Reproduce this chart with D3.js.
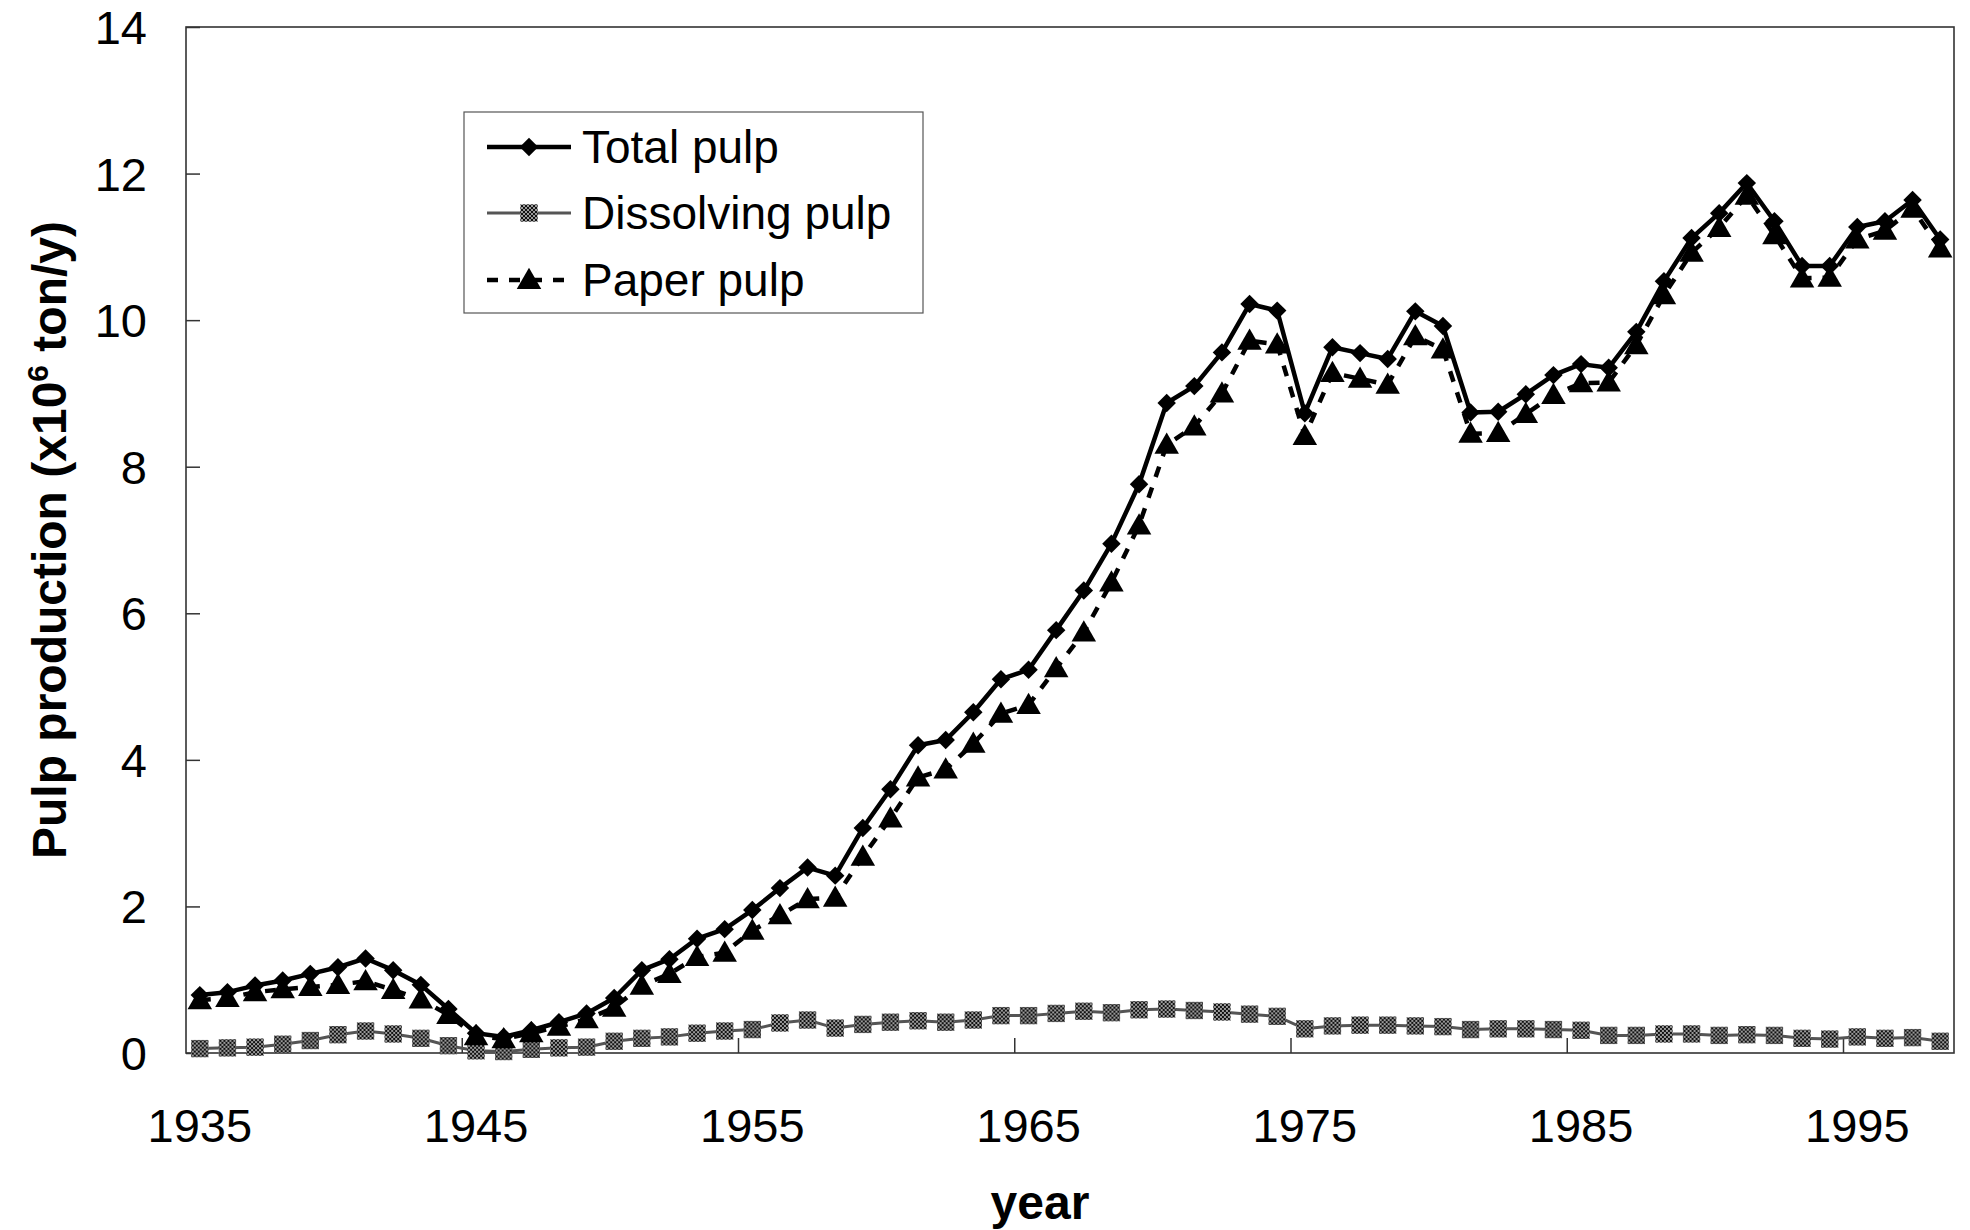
<!DOCTYPE html>
<html>
<head>
<meta charset="utf-8">
<title>Pulp production</title>
<style>
  body { margin: 0; background: #fff; }
  text { font-family: "Liberation Sans", Arial, sans-serif; fill: #000; }
  .tick-label { font-size: 47px; }
  .axis-title { font-size: 48px; font-weight: bold; }
  .legend-label { font-size: 46px; }
</style>
</head>
<body>
<div id="chart"></div>
<script src="https://cdn.jsdelivr.net/npm/d3@7"></script>
<script>
// categories (one per year)
const years = [1935, 1936, 1937, 1938, 1939, 1940, 1941, 1942, 1943, 1944,
  1945, 1946, 1947, 1948, 1949, 1950, 1951, 1952, 1953, 1954,
  1955, 1956, 1957, 1958, 1959, 1960, 1961, 1962, 1963, 1964,
  1965, 1966, 1967, 1968, 1969, 1970, 1971, 1972, 1973, 1974,
  1975, 1976, 1977, 1978, 1979, 1980, 1981, 1982, 1983, 1984,
  1985, 1986, 1987, 1988, 1989, 1990, 1991, 1992, 1993, 1994,
  1995, 1996, 1997, 1998];

// x10^6 ton/y
const totalPulp = [0.79, 0.83, 0.92, 0.99, 1.08, 1.17, 1.29, 1.13, 0.93, 0.60,
  0.27, 0.22, 0.31, 0.42, 0.54, 0.75, 1.13, 1.28, 1.56, 1.69,
  1.95, 2.25, 2.53, 2.42, 3.07, 3.60, 4.20, 4.27, 4.65, 5.10,
  5.23, 5.77, 6.31, 6.95, 7.76, 8.87, 9.10, 9.56, 10.22, 10.13,
  8.73, 9.63, 9.55, 9.47, 10.12, 9.92, 8.74, 8.75, 8.99, 9.25,
  9.40, 9.35, 9.84, 10.53, 11.12, 11.46, 11.87, 11.35, 10.74, 10.74,
  11.27, 11.35, 11.64, 11.10];

const dissolvingPulp = [0.06, 0.07, 0.08, 0.12, 0.17, 0.25, 0.30, 0.26, 0.20, 0.10,
  0.03, 0.02, 0.05, 0.07, 0.08, 0.16, 0.20, 0.22, 0.27, 0.30,
  0.32, 0.41, 0.45, 0.34, 0.39, 0.42, 0.44, 0.42, 0.45, 0.51,
  0.51, 0.54, 0.57, 0.55, 0.59, 0.60, 0.58, 0.56, 0.53, 0.50,
  0.33, 0.37, 0.38, 0.38, 0.37, 0.36, 0.32, 0.33, 0.33, 0.32,
  0.31, 0.24, 0.24, 0.26, 0.26, 0.24, 0.25, 0.24, 0.20, 0.19,
  0.22, 0.20, 0.21, 0.16];

const paperPulp = [0.72, 0.75, 0.83, 0.87, 0.90, 0.93, 0.98, 0.86, 0.73, 0.52,
  0.23, 0.19, 0.27, 0.36, 0.46, 0.62, 0.92, 1.08, 1.31, 1.37,
  1.67, 1.88, 2.10, 2.12, 2.68, 3.20, 3.76, 3.87, 4.22, 4.63,
  4.75, 5.25, 5.74, 6.42, 7.20, 8.30, 8.55, 9.00, 9.72, 9.67,
  8.42, 9.28, 9.20, 9.12, 9.78, 9.60, 8.45, 8.46, 8.72, 8.98,
  9.14, 9.15, 9.66, 10.34, 10.92, 11.26, 11.70, 11.16, 10.57, 10.58,
  11.10, 11.22, 11.52, 10.98];

const yTicks = [0, 2, 4, 6, 8, 10, 12, 14];
const xLabelYears = [1935, 1945, 1955, 1965, 1975, 1985, 1995];
const seriesNames = ["Total pulp", "Dissolving pulp", "Paper pulp"];

const width = 1970, height = 1230;
const plot = { left: 186, right: 1954, top: 27, bottom: 1053 };

const svg = d3.select("#chart").append("svg")
  .attr("width", width)
  .attr("height", height);

// halftone fill used for the dissolving pulp squares
const pat = svg.append("defs").append("pattern")
  .attr("id", "halftone")
  .attr("width", 4).attr("height", 4)
  .attr("patternUnits", "userSpaceOnUse");
pat.append("rect").attr("width", 4).attr("height", 4).attr("fill", "#9a9a9a");
pat.append("rect").attr("width", 2).attr("height", 2).attr("fill", "#111");
pat.append("rect").attr("x", 2).attr("y", 2).attr("width", 2).attr("height", 2).attr("fill", "#111");

// Excel-style category axis: points in the middle of each band
const x = d3.scaleBand().domain(years).range([plot.left, plot.right]).padding(0);
const xc = d => x(d) + x.bandwidth() / 2;
const y = d3.scaleLinear().domain([0, 14]).range([plot.bottom, plot.top]);

// frame
svg.append("rect")
  .attr("x", plot.left).attr("y", plot.top)
  .attr("width", plot.right - plot.left)
  .attr("height", plot.bottom - plot.top)
  .attr("fill", "none")
  .attr("stroke", "#333")
  .attr("stroke-width", 1.6);

// y axis: ticks point inward, labels on the left
const yAxis = d3.axisRight(y).tickValues(yTicks).tickSize(14).tickFormat("");
svg.append("g")
  .attr("transform", `translate(${plot.left},0)`)
  .call(yAxis)
  .call(g => g.select(".domain").remove())
  .call(g => g.selectAll("line").attr("stroke", "#333").attr("stroke-width", 1.5));

svg.append("g").selectAll("text")
  .data(yTicks)
  .join("text")
  .attr("class", "tick-label")
  .attr("x", 147)
  .attr("y", d => y(d) + 17)
  .attr("text-anchor", "end")
  .text(d => d);

// x axis: tick marks between categories every ten years, labels on categories
const boundaryYears = years.filter(d => (d - 1935) % 10 === 0 && d !== 1935);
svg.append("g").selectAll("line")
  .data(boundaryYears)
  .join("line")
  .attr("x1", d => x(d)).attr("x2", d => x(d))
  .attr("y1", plot.bottom).attr("y2", plot.bottom - 15)
  .attr("stroke", "#333").attr("stroke-width", 1.5);

svg.append("g").selectAll("text")
  .data(xLabelYears)
  .join("text")
  .attr("class", "tick-label")
  .attr("x", d => xc(d))
  .attr("y", 1142)
  .attr("text-anchor", "middle")
  .text(d => d);

// axis titles
svg.append("text")
  .attr("class", "axis-title")
  .attr("x", (plot.left + plot.right) / 2 - 30)
  .attr("y", 1219)
  .attr("text-anchor", "middle")
  .text("year");

const yt = svg.append("text")
  .attr("class", "axis-title")
  .attr("transform", `translate(66,${(plot.top + plot.bottom) / 2}) rotate(-90)`)
  .attr("text-anchor", "middle");
yt.append("tspan").text("Pulp production (x10");
yt.append("tspan").attr("dy", -18).attr("font-size", "30px").text("6");
yt.append("tspan").attr("dy", 18).text(" ton/y)");

// marker shapes (diamond = square turned 45 degrees)
const diamond = d3.symbol().type(d3.symbolSquare).size(170);
const triangle = d3.symbol().type(d3.symbolTriangle).size(260);
const square = d3.symbol().type(d3.symbolSquare).size(300);

const line = d3.line().x((d, i) => xc(years[i])).y(d => y(d));

// Total pulp
svg.append("path")
  .datum(totalPulp)
  .attr("fill", "none")
  .attr("stroke", "#000")
  .attr("stroke-width", 4.5)
  .attr("stroke-linejoin", "round")
  .attr("d", line);
svg.append("g").selectAll("path")
  .data(totalPulp)
  .join("path")
  .attr("transform", (d, i) => `translate(${xc(years[i])},${y(d)}) rotate(45)`)
  .attr("d", diamond)
  .attr("fill", "#000");

// Dissolving pulp
svg.append("path")
  .datum(dissolvingPulp)
  .attr("fill", "none")
  .attr("stroke", "#555")
  .attr("stroke-width", 3)
  .attr("d", line);
svg.append("g").selectAll("path")
  .data(dissolvingPulp)
  .join("path")
  .attr("transform", (d, i) => `translate(${xc(years[i])},${y(d)})`)
  .attr("d", square)
  .attr("fill", "url(#halftone)");

// Paper pulp
svg.append("path")
  .datum(paperPulp)
  .attr("fill", "none")
  .attr("stroke", "#000")
  .attr("stroke-width", 4.5)
  .attr("stroke-dasharray", "11,11")
  .attr("d", line);
svg.append("g").selectAll("path")
  .data(paperPulp)
  .join("path")
  .attr("transform", (d, i) => `translate(${xc(years[i])},${y(d) + 2})`)
  .attr("d", triangle)
  .attr("fill", "#000");

// legend
const legend = svg.append("g");
legend.append("rect")
  .attr("x", 464).attr("y", 112)
  .attr("width", 459).attr("height", 201)
  .attr("fill", "#fff")
  .attr("stroke", "#555")
  .attr("stroke-width", 1.2);

const rowY = [147, 213, 280];
const sx1 = 487, sx2 = 571, sm = 529;

// Total pulp
legend.append("line").attr("x1", sx1).attr("x2", sx2).attr("y1", rowY[0]).attr("y2", rowY[0])
  .attr("stroke", "#000").attr("stroke-width", 4.5);
legend.append("path").attr("transform", `translate(${sm},${rowY[0]}) rotate(45)`)
  .attr("d", diamond).attr("fill", "#000");
// Dissolving pulp
legend.append("line").attr("x1", sx1).attr("x2", sx2).attr("y1", rowY[1]).attr("y2", rowY[1])
  .attr("stroke", "#555").attr("stroke-width", 3);
legend.append("path").attr("transform", `translate(${sm},${rowY[1]})`)
  .attr("d", square).attr("fill", "url(#halftone)");
// Paper pulp
legend.append("line").attr("x1", sx1).attr("x2", sx2).attr("y1", rowY[2]).attr("y2", rowY[2])
  .attr("stroke", "#000").attr("stroke-width", 4.5).attr("stroke-dasharray", "11,11");
legend.append("path").attr("transform", `translate(${sm},${rowY[2] + 2})`)
  .attr("d", triangle).attr("fill", "#000");

legend.selectAll("text.legend-label")
  .data(seriesNames)
  .join("text")
  .attr("class", "legend-label")
  .attr("x", 582)
  .attr("y", (d, i) => rowY[i] + 16)
  .text(d => d);
</script>
</body>
</html>
